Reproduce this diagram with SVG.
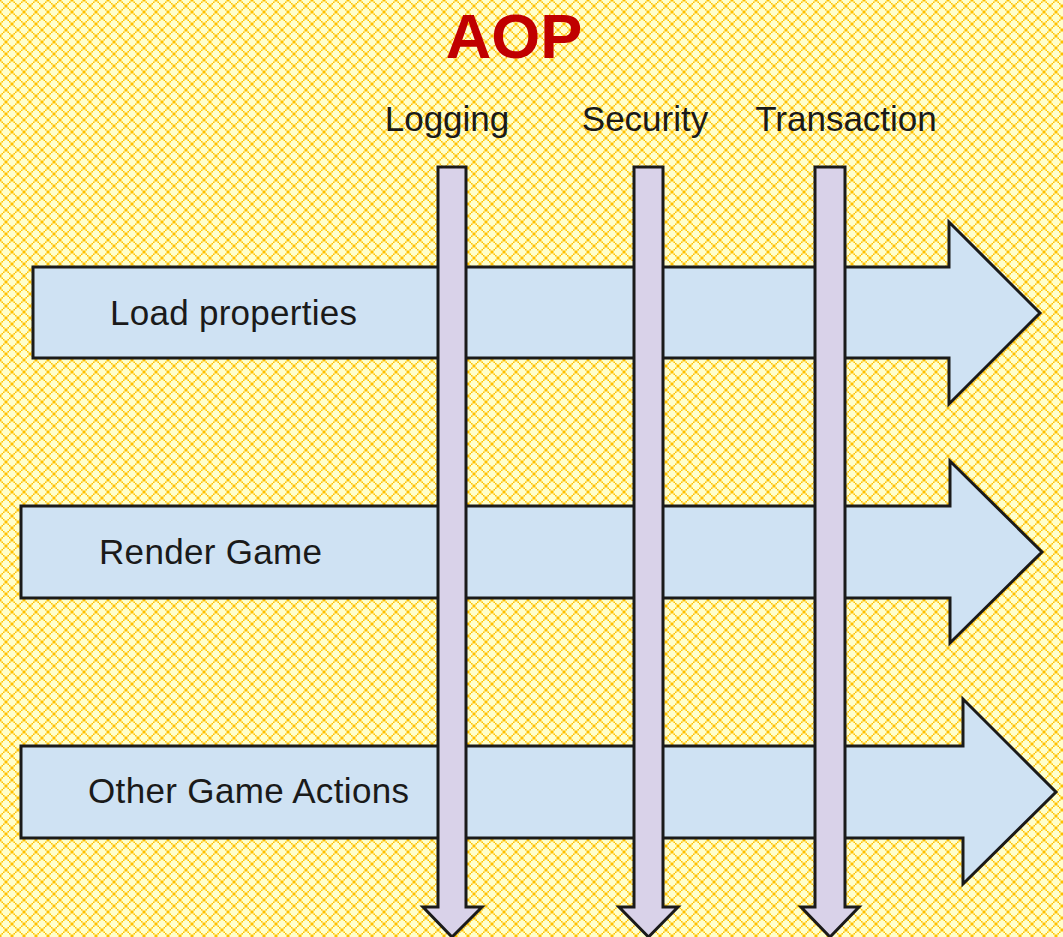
<svg xmlns="http://www.w3.org/2000/svg" width="1063" height="937" viewBox="0 0 1063 937">
  <style>
    .harrow { fill: #CFE2F3; stroke: #1a1a1a; stroke-width: 3; stroke-linejoin: miter; }
    .varrow { fill: #D9D2E9; stroke: #1a1a1a; stroke-width: 3; stroke-linejoin: miter; }
    .lbl { font-family: "Liberation Sans", Arial, sans-serif; font-size: 35px; fill: #1a1a1a; }
    .title { font-family: "Liberation Sans", Arial, sans-serif; font-size: 63px; font-weight: bold; fill: #C00000; }
  </style>
  <defs>
    <pattern id="bg" width="12" height="12" patternUnits="userSpaceOnUse">
      <rect width="12" height="12" fill="#FFFFCC"/>
      <path fill="#FFC000" d="M0,0h1.5v1.5h-1.5z M1.5,1.5h1.5v1.5h-1.5z M3,3h1.5v1.5h-1.5z M4.5,4.5h1.5v1.5h-1.5z M6,6h1.5v1.5h-1.5z M7.5,7.5h1.5v1.5h-1.5z M9,9h1.5v1.5h-1.5z M10.5,10.5h1.5v1.5h-1.5z M10.5,0h1.5v1.5h-1.5z M9,1.5h1.5v1.5h-1.5z M7.5,3h1.5v1.5h-1.5z M6,4.5h1.5v1.5h-1.5z M4.5,6h1.5v1.5h-1.5z M3,7.5h1.5v1.5h-1.5z M1.5,9h1.5v1.5h-1.5z M0,10.5h1.5v1.5h-1.5z"/>
    </pattern>
  </defs>
  <rect width="1063" height="937" fill="url(#bg)"/>

  <text class="title" x="514" y="58" text-anchor="middle">AOP</text>

  <g id="load-properties">
    <path class="harrow" d="M33,267 H949 V222 L1040,313 L949,404 V358 H33 Z"/>
    <text class="lbl" x="110" y="325" textLength="247">Load properties</text>
  </g>
  <g id="render-game">
    <path class="harrow" d="M21,506 H950 V461 L1042,552 L950,643 V598 H21 Z"/>
    <text class="lbl" x="99" y="564" textLength="223">Render Game</text>
  </g>
  <g id="other-game-actions">
    <path class="harrow" d="M21,746 H963 V699 L1056,792 L963,884 V838 H21 Z"/>
    <text class="lbl" x="88" y="803" textLength="321">Other Game Actions</text>
  </g>

  <g id="logging">
    <path class="varrow" d="M438,167 H466 V907 H482 L452,937 L423,907 H438 Z"/>
    <text class="lbl" x="447" y="131" text-anchor="middle">Logging</text>
  </g>
  <g id="security">
    <path class="varrow" d="M634,167 H663 V907 H678 L648.5,937 L619,907 H634 Z"/>
    <text class="lbl" x="645" y="131" text-anchor="middle">Security</text>
  </g>
  <g id="transaction">
    <path class="varrow" d="M815,167 H845 V907 H859 L830,937 L801,907 H815 Z"/>
    <text class="lbl" x="846" y="131" text-anchor="middle">Transaction</text>
  </g>
</svg>
